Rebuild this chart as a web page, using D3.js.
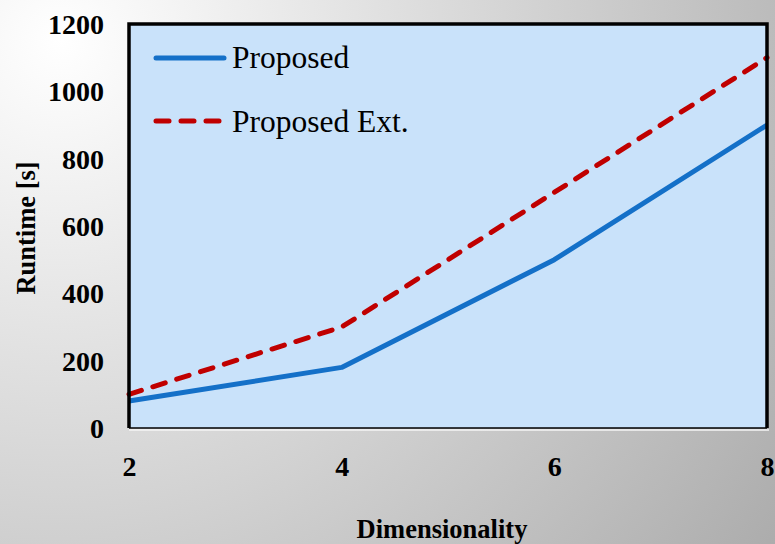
<!DOCTYPE html>
<html>
<head>
<meta charset="utf-8">
<script src="https://cdn.jsdelivr.net/npm/d3@7"></script>
<style>
  html, body { margin: 0; padding: 0; overflow: hidden; }
  svg { display: block; }
</style>
</head>
<body>
<div id="vis"></div>
<script>
// chart data
const dims = [2, 4, 6, 8];
const proposed = [80, 180, 500, 900];
const proposedExt = [100, 300, 700, 1100];
const yTicks = [0, 200, 400, 600, 800, 1000, 1200];
const seriesNames = ["Proposed", "Proposed Ext."];

const W = 775, H = 544;
const serif = "'Liberation Serif', 'Times New Roman', serif";
let margin = { top: 24, left: 129, right: 8, bottom: 116 },
  width = W - margin.left - margin.right,
  height = H - margin.top - margin.bottom;

const root = d3.select("#vis")
  .append("svg")
  .attr("width", W)
  .attr("height", H);

// gray radial background
const defs = root.append("defs");
const grad = defs.append("radialGradient")
  .attr("id", "bg")
  .attr("gradientUnits", "userSpaceOnUse")
  .attr("cx", 60).attr("cy", 40).attr("r", 900);
grad.append("stop").attr("offset", "0%").attr("stop-color", "#ffffff");
grad.append("stop").attr("offset", "100%").attr("stop-color", "#aaaaaa");

root.append("rect")
  .attr("width", W).attr("height", H)
  .attr("fill", "url(#bg)");

const svg = root.append("g")
  .attr("transform", `translate(${margin.left},${margin.top})`);

const x = d3.scaleLinear().domain([2, 8]).range([0, width]);
const y = d3.scaleLinear().domain([0, 1200]).range([height, 0]);

// plot area
svg.append("rect")
  .attr("width", width)
  .attr("height", height)
  .attr("fill", "#c9e2fa");

// thin light line under the bottom edge
svg.append("line")
  .attr("x1", 0).attr("x2", width + 2)
  .attr("y1", height + 2).attr("y2", height + 2)
  .attr("stroke", "#f4f4f4").attr("stroke-width", 1.5);

// axes (labels only, borders drawn separately)
const yAxis = svg.append("g")
  .call(d3.axisLeft(y).tickValues(yTicks).tickFormat(d3.format("d")).tickSize(0).tickPadding(25));
yAxis.select(".domain").remove();
yAxis.selectAll("text")
  .style("font-family", serif)
  .style("font-weight", "bold")
  .style("font-size", "28px")
  .attr("dy", "0.34em")
  .attr("fill", "#000");

const xAxis = svg.append("g")
  .attr("transform", `translate(0,${height})`)
  .call(d3.axisBottom(x).tickValues(dims).tickFormat(d3.format("d")).tickSize(0).tickPadding(0));
xAxis.select(".domain").remove();
xAxis.selectAll("text")
  .style("font-family", serif)
  .style("font-weight", "bold")
  .style("font-size", "28px")
  .attr("dy", null)
  .attr("y", 48)
  .attr("fill", "#000");

// lines
const line = d3.line()
  .x((d, i) => x(dims[i]))
  .y(d => y(d));

svg.append("path")
  .datum(proposed)
  .attr("fill", "none")
  .attr("stroke", "#1470c8")
  .attr("stroke-width", 5)
  .attr("stroke-linejoin", "round")
  .attr("d", line);

svg.append("path")
  .datum(proposedExt)
  .attr("fill", "none")
  .attr("stroke", "#c00000")
  .attr("stroke-width", 5)
  .attr("stroke-dasharray", "13 12")
  .attr("stroke-linecap", "round")
  .attr("d", line);

// border
svg.append("path")
  .attr("d", `M0,${height} V0 H${width} V${height}`)
  .attr("fill", "none")
  .attr("stroke", "#000")
  .attr("stroke-width", 3.5);
svg.append("line")
  .attr("x1", 0).attr("x2", width)
  .attr("y1", height).attr("y2", height)
  .attr("stroke", "#000")
  .attr("stroke-width", 1.5);

// legend
const legend = svg.append("g").attr("transform", "translate(25,34)");
legend.append("line")
  .attr("x1", 2).attr("x2", 70).attr("y1", 0).attr("y2", 0)
  .attr("stroke", "#1470c8").attr("stroke-width", 5)
  .attr("stroke-linecap", "round");
legend.append("line")
  .attr("x1", 2).attr("x2", 70).attr("y1", 63).attr("y2", 63)
  .attr("stroke", "#c00000").attr("stroke-width", 5)
  .attr("stroke-linecap", "round")
  .attr("stroke-dasharray", "13 12");
legend.selectAll("text.leg")
  .data(seriesNames)
  .join("text")
  .attr("class", "leg")
  .attr("x", 78)
  .attr("y", (d, i) => i * 64 + 10)
  .text(d => d)
  .style("font-family", serif)
  .style("font-size", "31.5px")
  .attr("fill", "#000");

// axis titles
root.append("text")
  .attr("x", 442)
  .attr("y", 538)
  .attr("text-anchor", "middle")
  .text("Dimensionality")
  .style("font-family", serif)
  .style("font-weight", "bold")
  .style("font-size", "26.5px");

root.append("text")
  .attr("transform", "translate(35,228) rotate(-90)")
  .attr("text-anchor", "middle")
  .text("Runtime [s]")
  .style("font-family", serif)
  .style("font-weight", "bold")
  .style("font-size", "26.5px");
</script>
</body>
</html>
